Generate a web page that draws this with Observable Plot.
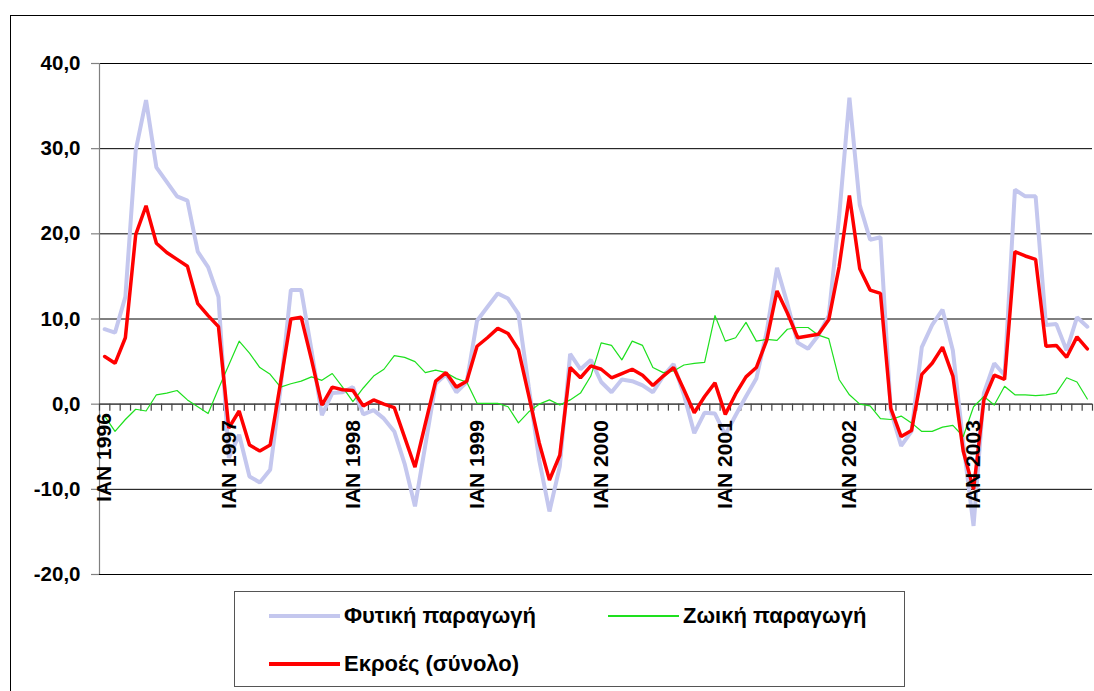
<!DOCTYPE html>
<html>
<head>
<meta charset="utf-8">
<script src="https://cdn.jsdelivr.net/npm/d3@7"></script>
<script src="https://cdn.jsdelivr.net/npm/@observablehq/plot@0.6"></script>
<style>
  html, body { margin: 0; padding: 0; background: #fff; }
  #wrap { position: relative; width: 1094px; height: 691px; overflow: hidden; font-family: "Liberation Sans", Arial, sans-serif; }
  #frame { position: absolute; left: 10px; top: 15px; width: 1300px; height: 900px; border-left: 1px solid #000; border-top: 1px solid #000; }
  #chart { position: absolute; left: 0; top: 0; }
  #legend { position: absolute; left: 234px; top: 591px; width: 671px; height: 96px; box-sizing: border-box; border: 1px solid #555; background: #fff; }
  .item { position: absolute; height: 24px; display: flex; align-items: center; font-weight: bold; font-size: 22px; color: #000; white-space: nowrap; }
  .swatch { width: 71px; margin-right: 4px; }
</style>
</head>
<body>
<div id="wrap">
  <div id="frame"></div>
  <div id="chart"></div>
  <div id="legend"></div>
</div>
<script>
// Monthly series, Jan 1996 – Dec 2003 (% change)
const years = [1996, 1997, 1998, 1999, 2000, 2001, 2002, 2003];
const monthPrefix = "IAN";

const seriesNames = ["Φυτική παραγωγή", "Ζωική παραγωγή", "Εκροές (σύνολο)"];
const seriesColors = ["#c4c7ee", "#1ee01e", "#ff0000"];

const vegetal = [
  8.8, 8.4, 12.6, 29.8, 35.7, 27.8, 26.1, 24.4, 23.9, 17.9, 16.1, 12.6,
  -6.3, -3.6, -8.5, -9.2, -7.7, 1.8, 13.4, 13.4, 6.3, -1.3, 1.3, 1.4,
  2.0, -1.2, -0.7, -1.7, -3.2, -7.0, -12.0, -4.8, 2.4, 3.5, 1.4, 2.6,
  9.8, 11.4, 13.0, 12.4, 10.6, 2.0, -6.5, -12.6, -7.3, 5.9, 4.1, 5.2,
  2.6, 1.4, 2.9, 2.7, 2.2, 1.4, 3.3, 4.7, 1.1, -3.4, -1.0, -1.1,
  -3.6, -1.3, 0.9, 3.0, 8.5, 16.0, 11.8, 7.2, 6.5, 8.1, 10.4, 22.0,
  36.0, 23.4, 19.3, 19.6, -0.8, -4.9, -3.2, 6.7, 9.3, 11.1, 6.3, -4.5,
  -14.3, 1.3, 4.8, 3.4, 25.2, 24.4, 24.4, 9.3, 9.4, 6.3, 10.2, 9.1
];

const animal = [
  -1.4, -3.2, -1.8, -0.6, -0.8, 1.1, 1.3, 1.6, 0.5, -0.3, -1.1, 1.8,
  4.6, 7.4, 6.0, 4.3, 3.5, 2.0, 2.4, 2.7, 3.2, 2.8, 3.6, 2.0,
  0.3, 1.9, 3.3, 4.1, 5.7, 5.5, 5.0, 3.7, 4.0, 3.7, 3.0, 2.6,
  0.1, 0.1, 0.1, -0.3, -2.2, -0.9, 0.0, 0.5, -0.1, 0.5, 1.3, 3.3,
  7.2, 6.9, 5.2, 7.4, 6.9, 4.3, 3.7, 3.9, 4.6, 4.8, 4.9, 10.4,
  7.4, 7.8, 9.6, 7.4, 7.6, 7.5, 8.8, 9.0, 9.0, 8.1, 7.7, 2.9,
  1.1, 0.0, -0.2, -1.7, -1.8, -1.4, -2.2, -3.2, -3.2, -2.7, -2.5, -3.8,
  -0.3, 0.9, -0.1, 2.1, 1.1, 1.1, 1.0, 1.1, 1.3, 3.1, 2.6, 0.6
];

const total = [
  5.6, 4.8, 7.8, 19.9, 23.3, 18.9, 17.8, 17.0, 16.2, 11.8, 10.4, 9.1,
  -2.8, -0.8, -4.8, -5.5, -4.8, 2.5, 10.0, 10.2, 5.2, -0.1, 2.0, 1.7,
  1.6, -0.2, 0.5, 0.0, -0.4, -3.9, -7.4, -2.3, 2.7, 3.7, 2.0, 2.7,
  6.8, 7.8, 8.9, 8.3, 6.4, 1.0, -4.5, -8.9, -6.0, 4.3, 3.1, 4.5,
  4.1, 3.1, 3.6, 4.1, 3.4, 2.2, 3.3, 4.3, 1.7, -1.0, 0.9, 2.5,
  -1.2, 1.2, 3.2, 4.3, 7.5, 13.3, 10.7, 7.8, 8.0, 8.2, 9.9, 16.1,
  24.5, 15.9, 13.4, 13.0, -0.5, -3.8, -3.1, 3.5, 4.8, 6.7, 3.3, -5.5,
  -10.0, 0.5, 3.4, 2.9, 17.9, 17.4, 17.0, 6.8, 6.9, 5.5, 7.9, 6.5
];

const yTicks = [-20, -10, 0, 10, 20, 30, 40];

// ---- build tables from arrays ----
const n = vegetal.length;
const rows = d3.range(n).map(i => ({i, veg: vegetal[i], anim: animal[i], tot: total[i]}));
const xDomain = [-0.5, n - 0.5];
const boundaries = d3.range(n + 1).map(k => k - 0.5);
const yearLabels = years.map((y, k) => ({i: k * 12, label: `${monthPrefix} ${y}`}));
const fmt = d => d.toFixed(1).replace(".", ",");
const FONT = '"Liberation Sans", Arial, sans-serif';
const labelStyle = {x: "i", y: () => 0, text: "label", rotate: -90, textAnchor: "end", lineAnchor: "middle",
  fontSize: 21, fontWeight: "bold", fill: "#000"};

const chart = Plot.plot({
  width: 1094,
  height: 588,
  marginLeft: 99,
  marginRight: 2,
  marginTop: 63,
  marginBottom: 14,
  style: {fontFamily: FONT, background: "transparent", overflow: "visible"},
  x: {type: "linear", domain: xDomain, axis: null},
  y: {domain: [yTicks[0], yTicks[yTicks.length - 1]], axis: null},
  marks: [
    // horizontal gridlines
    Plot.ruleY(yTicks, {stroke: "#000", strokeWidth: 1}),
    // y axis line + outward ticks
    Plot.ruleX([xDomain[0]], {stroke: "#808080", strokeWidth: 1.2}),
    Plot.ruleY(yTicks, {x1: xDomain[0], x2: xDomain[0], insetLeft: -8, stroke: "#808080", strokeWidth: 1.2}),
    // y tick labels
    Plot.text(yTicks, {y: d => d, frameAnchor: "left", text: d => fmt(d), textAnchor: "end", dx: -19,
      fontSize: 20.5, fontWeight: "bold", fill: "#000"}),
    // category axis at zero with minor ticks at category boundaries
    Plot.ruleY([0], {stroke: "#555", strokeWidth: 1.2}),
    Plot.ruleX(boundaries, {y1: 0, y2: 0, insetBottom: -7, stroke: "#444", strokeWidth: 1.2}),
    // series
    Plot.line(rows, {x: "i", y: "veg", stroke: seriesColors[0], strokeWidth: 4, strokeLinejoin: "miter"}),
    Plot.line(rows, {x: "i", y: "anim", stroke: seriesColors[1], strokeWidth: 1.2}),
    Plot.line(rows, {x: "i", y: "tot", stroke: seriesColors[2], strokeWidth: 3.5, strokeLinejoin: "miter"}),
    // year labels, rotated
    Plot.text(yearLabels.slice(0, 1), {...labelStyle, dy: 9}),
    Plot.text(yearLabels.slice(1), {...labelStyle, dy: 16})
  ]
});
document.getElementById("chart").appendChild(chart);

// ---- legend (HTML) ----
const legend = document.getElementById("legend");
const legendItems = [
  {name: seriesNames[0], color: seriesColors[0], w: 4, left: 34, top: 12},
  {name: seriesNames[1], color: seriesColors[1], w: 2, left: 373, top: 12},
  {name: seriesNames[2], color: seriesColors[2], w: 3.5, left: 34, top: 60}
];
legendItems.forEach(it => {
  const d = document.createElement("div");
  d.className = "item";
  d.style.left = it.left + "px";
  d.style.top = it.top + "px";
  const sw = document.createElement("span");
  sw.className = "swatch";
  sw.style.height = it.w + "px";
  sw.style.background = it.color;
  const t = document.createElement("span");
  t.textContent = it.name;
  d.appendChild(sw);
  d.appendChild(t);
  legend.appendChild(d);
});
</script>
</body>
</html>
